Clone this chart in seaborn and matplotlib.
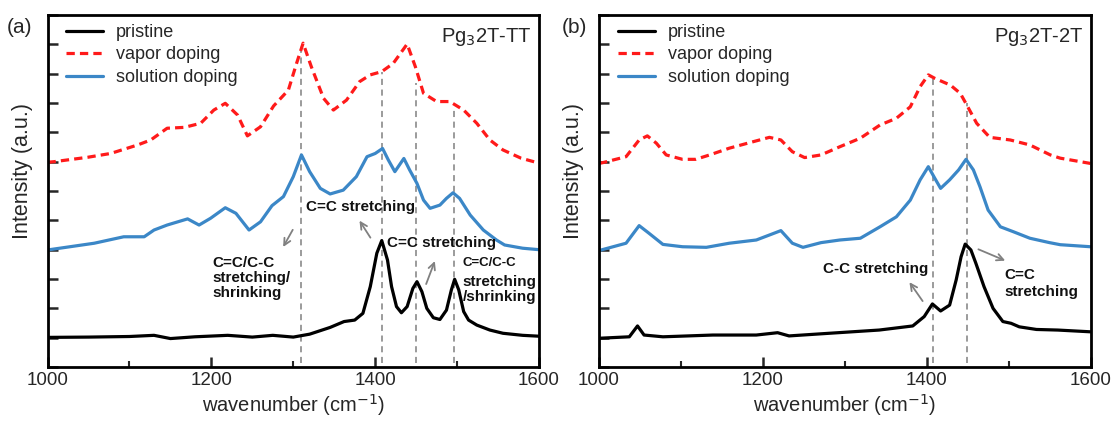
import matplotlib
matplotlib.use("Agg")
import matplotlib.pyplot as plt
import seaborn as sns
from matplotlib.ticker import MultipleLocator

# Panel (a) Pg3 2T-TT
a_pristine_x = [1000, 1050, 1100, 1130, 1150, 1180, 1220, 1250, 1275, 1300, 1320, 1345, 1362, 1375,
                1385, 1394, 1402, 1408, 1415, 1420, 1426, 1432, 1439, 1446, 1451, 1457, 1463, 1471,
                1479, 1487, 1493, 1497, 1502, 1508, 1514, 1524, 1540, 1556, 1580, 1600]
a_pristine_y = [1.01, 1.02, 1.04, 1.08, 0.97, 1.03, 1.08, 1.02, 1.08, 1.02, 1.12, 1.35, 1.55, 1.6,
                1.83, 2.74, 3.88, 4.31, 3.65, 2.74, 2.06, 1.85, 2.06, 2.68, 2.91, 2.57, 2.0, 1.68,
                1.62, 1.94, 2.63, 2.99, 2.63, 1.89, 1.6, 1.43, 1.26, 1.15, 1.08, 1.05]

a_solution_x = [1000, 1057, 1093, 1118, 1130, 1146, 1171, 1185, 1199, 1217, 1230, 1246, 1260, 1274,
                1288, 1300, 1310, 1320, 1333, 1345, 1361, 1377, 1390, 1400, 1409, 1416, 1424, 1435,
                1442, 1451, 1459, 1467, 1479, 1487, 1495, 1503, 1516, 1532, 1548, 1558, 1580, 1600]
a_solution_y = [3.99, 4.22, 4.44, 4.44, 4.67, 4.84, 5.05, 4.84, 5.07, 5.43, 5.24, 4.67, 4.95, 5.5,
                5.81, 6.49, 7.23, 6.66, 6.09, 5.9, 6.03, 6.49, 7.17, 7.28, 7.45, 7.06, 6.66, 7.11,
                6.72, 6.26, 5.69, 5.41, 5.52, 5.75, 5.94, 5.75, 5.18, 4.67, 4.33, 4.16, 4.05, 4.0]

a_vapor_x = [1000, 1008, 1049, 1077, 1110, 1126, 1146, 1167, 1187, 1203, 1217, 1232, 1244, 1260,
             1276, 1294, 1304, 1312, 1322, 1337, 1349, 1365, 1381, 1394, 1408, 1422, 1439, 1449,
             1459, 1475, 1491, 1508, 1524, 1540, 1556, 1578, 1600]
a_vapor_y = [6.98, 7.0, 7.15, 7.28, 7.57, 7.74, 8.14, 8.17, 8.31, 8.76, 8.99, 8.59, 7.88, 8.19,
             8.9, 9.44, 10.35, 11.04, 10.24, 9.16, 8.76, 9.1, 9.73, 9.96, 10.07, 10.35, 11.01, 10.24,
             9.33, 9.05, 9.05, 8.76, 8.31, 7.74, 7.4, 7.12, 6.95]

a_marks = [1310, 1408, 1450, 1496]
a_marks_top = [11.0, 10.07, 9.67, 8.82]

# Panel (b) Pg3 2T-2T
b_pristine_x = [1000, 1037, 1047, 1055, 1078, 1139, 1192, 1218, 1232, 1281, 1342, 1383, 1397, 1407,
                1417, 1428, 1436, 1442, 1447, 1454, 1460, 1470, 1481, 1493, 1503, 1513, 1534, 1560,
                1600]
b_pristine_y = [0.98, 1.03, 1.4, 1.09, 1.03, 1.09, 1.09, 1.17, 1.06, 1.15, 1.26, 1.4, 1.72, 2.15,
                1.91, 2.11, 2.97, 3.76, 4.19, 3.99, 3.54, 2.74, 2.0, 1.55, 1.49, 1.37, 1.28, 1.26,
                1.2]

b_solution_x = [1000, 1033, 1049, 1061, 1078, 1102, 1131, 1159, 1192, 1208, 1222, 1236, 1249, 1271,
                1294, 1319, 1343, 1363, 1380, 1392, 1402, 1410, 1417, 1428, 1439, 1448, 1457, 1465,
                1475, 1490, 1506, 1526, 1550, 1563, 1600]
b_solution_y = [3.97, 4.22, 4.82, 4.56, 4.18, 4.1, 4.08, 4.22, 4.33, 4.5, 4.65, 4.22, 4.08, 4.24,
                4.33, 4.39, 4.78, 5.12, 5.69, 6.38, 6.83, 6.43, 6.09, 6.38, 6.72, 7.08, 6.72, 6.15,
                5.35, 4.78, 4.61, 4.39, 4.24, 4.17, 4.1]

b_vapor_x = [1000, 1005, 1033, 1049, 1059, 1070, 1082, 1102, 1118, 1135, 1159, 1188, 1208, 1222,
             1236, 1251, 1271, 1294, 1319, 1343, 1363, 1380, 1392, 1402, 1410, 1429, 1441, 1449,
             1461, 1477, 1502, 1526, 1551, 1563, 1600]
b_vapor_y = [6.94, 6.97, 7.17, 7.74, 7.88, 7.63, 7.23, 7.08, 7.08, 7.23, 7.46, 7.68, 7.83, 7.74,
             7.34, 7.14, 7.23, 7.51, 7.8, 8.25, 8.48, 8.87, 9.56, 9.96, 9.84, 9.61, 9.33, 8.93,
             8.31, 7.83, 7.74, 7.57, 7.23, 7.12, 6.94]

b_marks = [1408, 1449]
b_marks_top = [9.9, 8.99]

sns.set_theme(style="ticks")
plt.rcParams['font.family'] = ['Liberation Sans', 'DejaVu Sans']

black = '#000000'
red = '#ff1a1a'
blue = '#3b87c7'
grey = '#808080'

fig = plt.figure(figsize=(11.13, 4.28), dpi=100)
ax_a = fig.add_axes([0.0427, 0.1425, 0.4416, 0.8224])
ax_b = fig.add_axes([0.5382, 0.1425, 0.4416, 0.8224])


def draw_panel(ax, px, py, vx, vy, sx, sy, marks, tops, name):
    sns.lineplot(x=px, y=py, ax=ax, color=black, lw=2.3, label='pristine', sort=False)
    sns.lineplot(x=vx, y=vy, ax=ax, color=red, lw=2.3, ls=(0, (2.6, 1.6)), label='vapor doping', sort=False)
    sns.lineplot(x=sx, y=sy, ax=ax, color=blue, lw=2.3, label='solution doping', sort=False)
    ax.vlines(marks, 0.15, tops, colors=grey, linestyles=(0, (4, 3)), lw=1.1, zorder=1)
    ax.set_xlim(1000, 1600)
    ax.set_ylim(0, 12)
    ax.xaxis.set_major_locator(MultipleLocator(200))
    ax.xaxis.set_minor_locator(MultipleLocator(100))
    ax.yaxis.set_major_locator(MultipleLocator(1))
    ax.set_yticklabels([])
    ax.tick_params(axis='both', which='major', direction='in', length=7, width=1.8, labelsize=13.5)
    ax.tick_params(axis='x', which='minor', direction='in', length=4, width=1.5)
    ax.tick_params(axis='y', which='both', right=False)
    for s in ax.spines.values():
        s.set_linewidth(2)
        s.set_color('black')
    ax.set_xlabel('wavenumber (cm$^{-1}$)', fontsize=14.5, labelpad=2)
    ax.set_ylabel('Intensity (a.u.)', fontsize=15.5)
    ax.yaxis.set_label_coords(-0.03, 0.557)
    ax.legend(loc='upper left', bbox_to_anchor=(0.02, 1.0), frameon=False, fontsize=13,
              handlelength=2.05, borderaxespad=0.3, labelspacing=0.3, handletextpad=0.7,
              borderpad=0.2)
    ax.text(0.985, 0.97, name, transform=ax.transAxes, ha='right', va='top', fontsize=14.5)


draw_panel(ax_a, a_pristine_x, a_pristine_y, a_vapor_x, a_vapor_y, a_solution_x, a_solution_y,
           a_marks, a_marks_top, 'Pg$_3$2T-TT')
draw_panel(ax_b, b_pristine_x, b_pristine_y, b_vapor_x, b_vapor_y, b_solution_x, b_solution_y,
           b_marks, b_marks_top, 'Pg$_3$2T-2T')

arrow = dict(arrowstyle='->', color=grey, lw=1.3)
bold = dict(fontsize=11, fontweight='bold', color='#111111')

# annotations panel (a)
ax_a.annotate('', xy=(1379, 5.07), xytext=(1396, 4.33), arrowprops=arrow)
ax_a.text(1316, 5.47, 'C=C stretching', ha='left', va='center', **bold)
ax_a.annotate('', xy=(1286, 4.01), xytext=(1301, 4.76), arrowprops=arrow)
ax_a.text(1201, 3.03, 'C=C/C-C\nstretching/\nshrinking', ha='left', va='center',
          linespacing=1.1, **bold)
ax_a.annotate('', xy=(1474, 3.7), xytext=(1461, 2.74), arrowprops=arrow)
ax_a.text(1415, 4.22, 'C=C stretching', ha='left', va='center', **bold)
ax_a.text(1507, 3.56, 'C=C/C-C', ha='left', va='center', fontsize=9.5, fontweight='bold', color='#111111')
ax_a.text(1507, 2.65, 'stretching\n/shrinking', ha='left', va='center', linespacing=1.1, **bold)

# annotations panel (b)
ax_b.annotate('', xy=(1377, 2.97), xytext=(1397, 2.17), arrowprops=arrow)
ax_b.text(1274, 3.33, 'C-C stretching', ha='left', va='center', **bold)
ax_b.annotate('', xy=(1499, 3.59), xytext=(1460, 4.05), arrowprops=arrow)
ax_b.text(1495, 2.84, 'C=C\nstretching', ha='left', va='center', linespacing=1.25, **bold)

fig.text(0.006, 0.935, '(a)', fontsize=15, ha='left', va='center')
fig.text(0.505, 0.935, '(b)', fontsize=15, ha='left', va='center')

fig.savefig('out.png', dpi=100)
